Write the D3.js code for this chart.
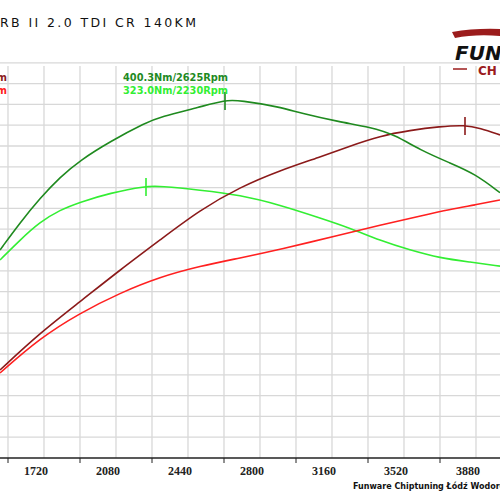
<!DOCTYPE html>
<html><head><meta charset="utf-8">
<script src="https://cdn.jsdelivr.net/npm/d3@7"></script>
<style>body{margin:0;background:#fff}svg{display:block}</style></head>
<body><svg id="c" width="500" height="500"></svg>
<script>
const tickLabels=[1720,2080,2440,2800,3160,3520,3880];
const rpmTuned=[1500,1600,1700,1800,1900,2050,2230,2300,2500,2625,2700,2900,3000,3200,3350,3475,3600,3750,3875,4000];
const torqueTuned=[265.5,290,312,331,346,363,380,385,394,400.3,400,394,388.6,380.5,376,369,355.4,343.7,334,317];
const rpmStock=[1500,1600,1700,1800,1900,2050,2230,2300,2500,2700,2900,3100,3250,3400,3550,3700,3850,4000];
const torqueStock=[256.5,274.5,290.7,301.5,308.5,316.7,323,322.9,319.4,315,306,294.3,285.3,274,265.5,258.3,254.7,251];
const rpmPowTuned=[1500,1700,1900,2100,2300,2500,2700,2900,3100,3250,3400,3550,3700,3825,3900,4000];
const powTuned=[157.7,191,219,247.6,274.5,301.5,322,337,349,359,368,373,376.5,377.8,375.1,368.9];
const rpmPowStock=[1500,1700,1900,2100,2300,2500,2700,2900,3200,3400,3600,3750,3875,4000];
const powStock=[155,186.4,208.9,226.9,241.3,251,258.3,266,279,288,296,302,306,310.5];
const peaks=[{rpm:2625,v:400.3,c:"#1f8a1f"},{rpm:2230,v:323,c:"#33ee33"},{rpm:3825,v:377.8,c:"#8b1a1a"}];

const svg=d3.select("#c");
const x=d3.scaleLinear().domain([1720,3880]).range([44,476]);
const y=d3.scaleLinear().domain([400.3,78.6]).range([100,458]);
const gridRpm=d3.range(1540,4000,180);
svg.selectAll(".vg").data(gridRpm).enter().append("line")
 .attr("x1",d=>x(d)).attr("x2",d=>x(d)).attr("y1",66).attr("y2",458)
 .attr("stroke","#d8d8d8").attr("stroke-width",1.3);
const gridV=d3.range(1,20).map(k=>78.6+k*18.69);
svg.selectAll(".hg").data(gridV).enter().append("line")
 .attr("x1",0).attr("x2",500).attr("y1",d=>y(d)).attr("y2",d=>y(d))
 .attr("stroke","#d8d8d8").attr("stroke-width",1.3);
svg.append("line").attr("x1",0).attr("x2",500).attr("y1",y(78.6)).attr("y2",y(78.6)).attr("stroke","#222").attr("stroke-width",1.5);
svg.selectAll(".tk").data(d3.range(1540,4000,360)).enter().append("line")
 .attr("x1",d=>x(d)).attr("x2",d=>x(d)).attr("y1",458).attr("y2",463).attr("stroke","#222");
svg.selectAll(".tl").data(tickLabels).enter().append("text")
 .attr("x",d=>x(d)-8).attr("y",475).attr("text-anchor","middle")
 .attr("font-family","Liberation Serif").attr("font-weight","bold").attr("font-size",12).attr("fill","#222").text(d=>d);
const line=(xs)=>d3.line().x((d,i)=>x(xs[i])).y(d=>y(d)).curve(d3.curveBasis);
[[rpmStock,torqueStock,"#33ee33"],[rpmPowStock,powStock,"#ff2020"],[rpmPowTuned,powTuned,"#8b1a1a"],[rpmTuned,torqueTuned,"#1f8a1f"]]
.forEach(([xs,vs,c])=>svg.append("path").datum(vs).attr("d",line(xs)).attr("fill","none").attr("stroke",c).attr("stroke-width",1.6));
svg.selectAll(".pk").data(peaks).enter().append("line")
 .attr("x1",d=>x(d.rpm)).attr("x2",d=>x(d.rpm)).attr("y1",d=>y(d.v)-8).attr("y2",d=>y(d.v)+10)
 .attr("stroke",d=>d.c).attr("stroke-width",1.6);
const lab=(t,xx,yy,c,a)=>svg.append("text").attr("x",xx).attr("y",yy).attr("text-anchor",a||"start")
 .attr("font-family","DejaVu Sans").attr("font-weight","bold").attr("font-size",9.8).attr("fill",c).text(t);
lab("400.3Nm/2625Rpm",123,81,"#1f8a1f");
lab("323.0Nm/2230Rpm",123,94,"#33ee33");
lab("187.0KM/3825Rpm",7,81,"#8b1a1a","end");
lab("142.0KM/4000Rpm",7,94,"#ff2020","end");
svg.append("text").attr("x",0).attr("y",27).attr("font-family","DejaVu Sans").attr("font-size",12.5)
 .attr("letter-spacing",2.4).attr("fill","#111").text("RB II 2.0 TDI CR 140KM");
svg.append("path").attr("d","M452 32 Q475 28 500 29 L500 36 Q475 34 455 38 Z").attr("fill","#9b1c1c");
svg.append("text").attr("x",455).attr("y",60).attr("font-family","DejaVu Sans").attr("font-style","italic")
 .attr("font-weight","bold").attr("font-size",20).attr("fill","#111").text("FUN");
svg.append("line").attr("x1",453).attr("x2",467).attr("y1",69).attr("y2",69).attr("stroke","#9b1c1c").attr("stroke-width",1.5);
svg.append("text").attr("x",478).attr("y",75).attr("font-family","DejaVu Sans").attr("font-weight","bold")
 .attr("font-size",12).attr("fill","#9b1c1c").text("CH");
svg.append("text").attr("x",353).attr("y",489).attr("font-family","DejaVu Sans").attr("font-weight","bold")
 .attr("font-size",8).attr("fill","#111").text("Funware Chiptuning Łódź Wodorowa");
</script></body></html>
